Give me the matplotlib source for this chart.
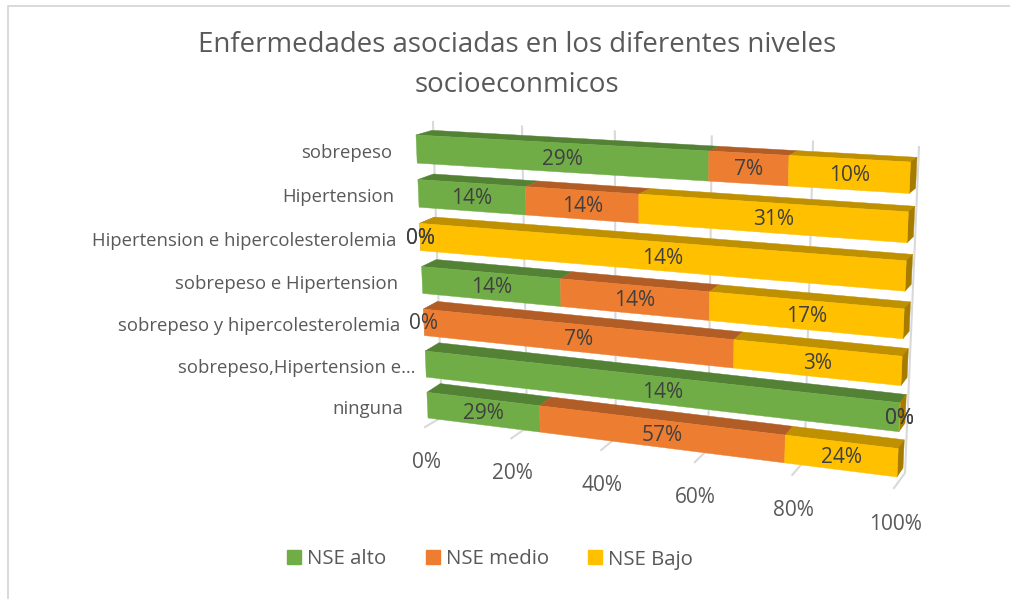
import numpy as np
import matplotlib
matplotlib.use("Agg")
import matplotlib.pyplot as plt
from matplotlib.patches import Patch

plt.rcParams["font.family"] = ["Open Sans", "DejaVu Sans"]

categorias = ["sobrepeso", "Hipertension", "Hipertension e hipercolesterolemia",
              "sobrepeso e Hipertension", "sobrepeso y hipercolesterolemia",
              "sobrepeso,Hipertension e…", "ninguna"]
series = ["NSE alto", "NSE medio", "NSE Bajo"]
nse_alto = [28.57, 14.29, 0, 14.29, 0, 14.29, 28.57]
nse_medio = [7.14, 14.29, 0, 14.29, 7.14, 0, 57.14]
nse_bajo = [10.34, 31.03, 13.79, 17.24, 3.45, 0, 24.14]
ticks_pct = [0, 20, 40, 60, 80, 100]

COL_FRENTE = ["#70AD47", "#ED7D31", "#FFC000"]
COL_TECHO = ["#548235", "#B25D25", "#BF9000"]
COL_LADO = "#A67C00"
COL_GRID = "#D9D9D9"
COL_TEXTO = "#595959"
COL_DATOS = "#404040"
F_BARRA = 0.63


def homografia(esquinas):
    # cuadrado unitario -> cuatro esquinas en pixeles
    (x0, y0), (x1, y1), (x2, y2), (x3, y3) = esquinas
    dx1, dx2, sx = x1 - x3, x2 - x3, x0 - x1 - x2 + x3
    dy1, dy2, sy = y1 - y3, y2 - y3, y0 - y1 - y2 + y3
    g, h = np.linalg.solve([[dx1, dx2], [dy1, dy2]], [sx, sy])
    return np.array([[x1 - x0 + g * x1, x2 - x0 + h * x2, x0],
                     [y1 - y0 + g * y1, y2 - y0 + h * y2, y0],
                     [g, h, 1.0]])


def proy(H, p, u):
    v = H @ np.array([p, u, 1.0])
    return v[0] / v[2], v[1] / v[2]


# planos: p va de 0 a 1 (izq-der), u de 0 a 1 (arriba-abajo)
FRENTE = homografia([(416, 135), (910.5, 162), (428, 418), (897, 477)])
FONDO = homografia([(432, 130.3), (917, 157.3), (441, 409), (903, 468)])
PARED = homografia([(433, 122), (919, 147), (442, 417), (905, 473)])

fig = plt.figure(figsize=(10.10, 5.99), dpi=100)
ax = fig.add_axes([0, 0, 1, 1])
ax.set_xlim(0, 1010)
ax.set_ylim(599, 0)
ax.axis("off")

# marco del grafico
ax.plot([8, 8, 1010], [599, 6, 6], color=COL_GRID, lw=1.4)

ax.text(517, 65, "Enfermedades asociadas en los diferentes niveles\nsocioeconmicos",
        ha="center", va="center", fontsize=19.9, color=COL_TEXTO, linespacing=1.55)

# rejilla y marcas del eje
for t in ticks_pct:
    p = t / 100
    xa, ya = proy(PARED, p, 0)
    xb, yb = proy(PARED, p, 1)
    # la marca sale de la pared hacia el frente
    xc = xb - 17 + 6 * p
    yc = yb + 10 + 5 * p
    ax.plot([xa, xb, xc], [ya, yb, yc], color=COL_GRID, lw=1.5, zorder=1)
    ax.text(xc + 1, yc + 35 + p, f"{t}%", ha="center", va="center", fontsize=15,
            color=COL_TEXTO, zorder=6)

n = len(categorias)
valores = np.array([nse_alto, nse_medio, nse_bajo], dtype=float)
etiquetas = []
for i in range(n):
    u0 = i / (n - 1 + F_BARRA)
    u1 = (i + F_BARRA) / (n - 1 + F_BARRA)
    um = (u0 + u1) / 2
    z = 2 + i * 0.1
    total = valores[:, i].sum()
    acum = 0.0
    for s in range(len(series)):
        ini = acum / total
        fin = (acum + valores[s, i]) / total
        acum += valores[s, i]
        techo = [proy(FRENTE, ini, u0), proy(FRENTE, fin, u0),
                 proy(FONDO, fin, u0), proy(FONDO, ini, u0)]
        frente = [proy(FRENTE, ini, u0), proy(FRENTE, fin, u0),
                  proy(FRENTE, fin, u1), proy(FRENTE, ini, u1)]
        ax.fill(*zip(*techo), color=COL_TECHO[s], lw=0.3, zorder=z)
        ax.fill(*zip(*frente), color=COL_FRENTE[s], lw=0.3, zorder=z + 0.01)
        # la etiqueta va al centro del tramo ya proyectado
        xm, ym = np.mean([proy(FRENTE, ini, um), proy(FRENTE, fin, um)], axis=0)
        etiquetas.append((xm, ym, f"{valores[s, i]:.0f}%"))
    lado = [proy(FRENTE, 1, u0), proy(FONDO, 1, u0), proy(FONDO, 1, u1), proy(FRENTE, 1, u1)]
    ax.fill(*zip(*lado), color=COL_LADO, lw=0.3, zorder=z)

    xl, yl = proy(FRENTE, 0, um)
    extra = 14 if categorias[i].endswith("…") else 0
    ax.text(xl - 24 + extra, yl + 3.5, categorias[i], ha="right", va="center",
            fontsize=13.3, color=COL_TEXTO, zorder=6)

for xm, ym, txt in etiquetas:
    ax.text(xm, ym + 1.5, txt, ha="center", va="center", fontsize=15, color=COL_DATOS, zorder=7)

manejadores = [Patch(color=c, label=s) for c, s in zip(COL_FRENTE, series)]
ax.legend(handles=manejadores, loc="center", bbox_to_anchor=(490 / 1010, 1 - 559.5 / 599),
          ncol=3, frameon=False, fontsize=14.7, labelcolor=COL_TEXTO, handlelength=0.69,
          handleheight=0.69, handletextpad=0.3, columnspacing=1.93)

fig.savefig("out.png", dpi=100)
